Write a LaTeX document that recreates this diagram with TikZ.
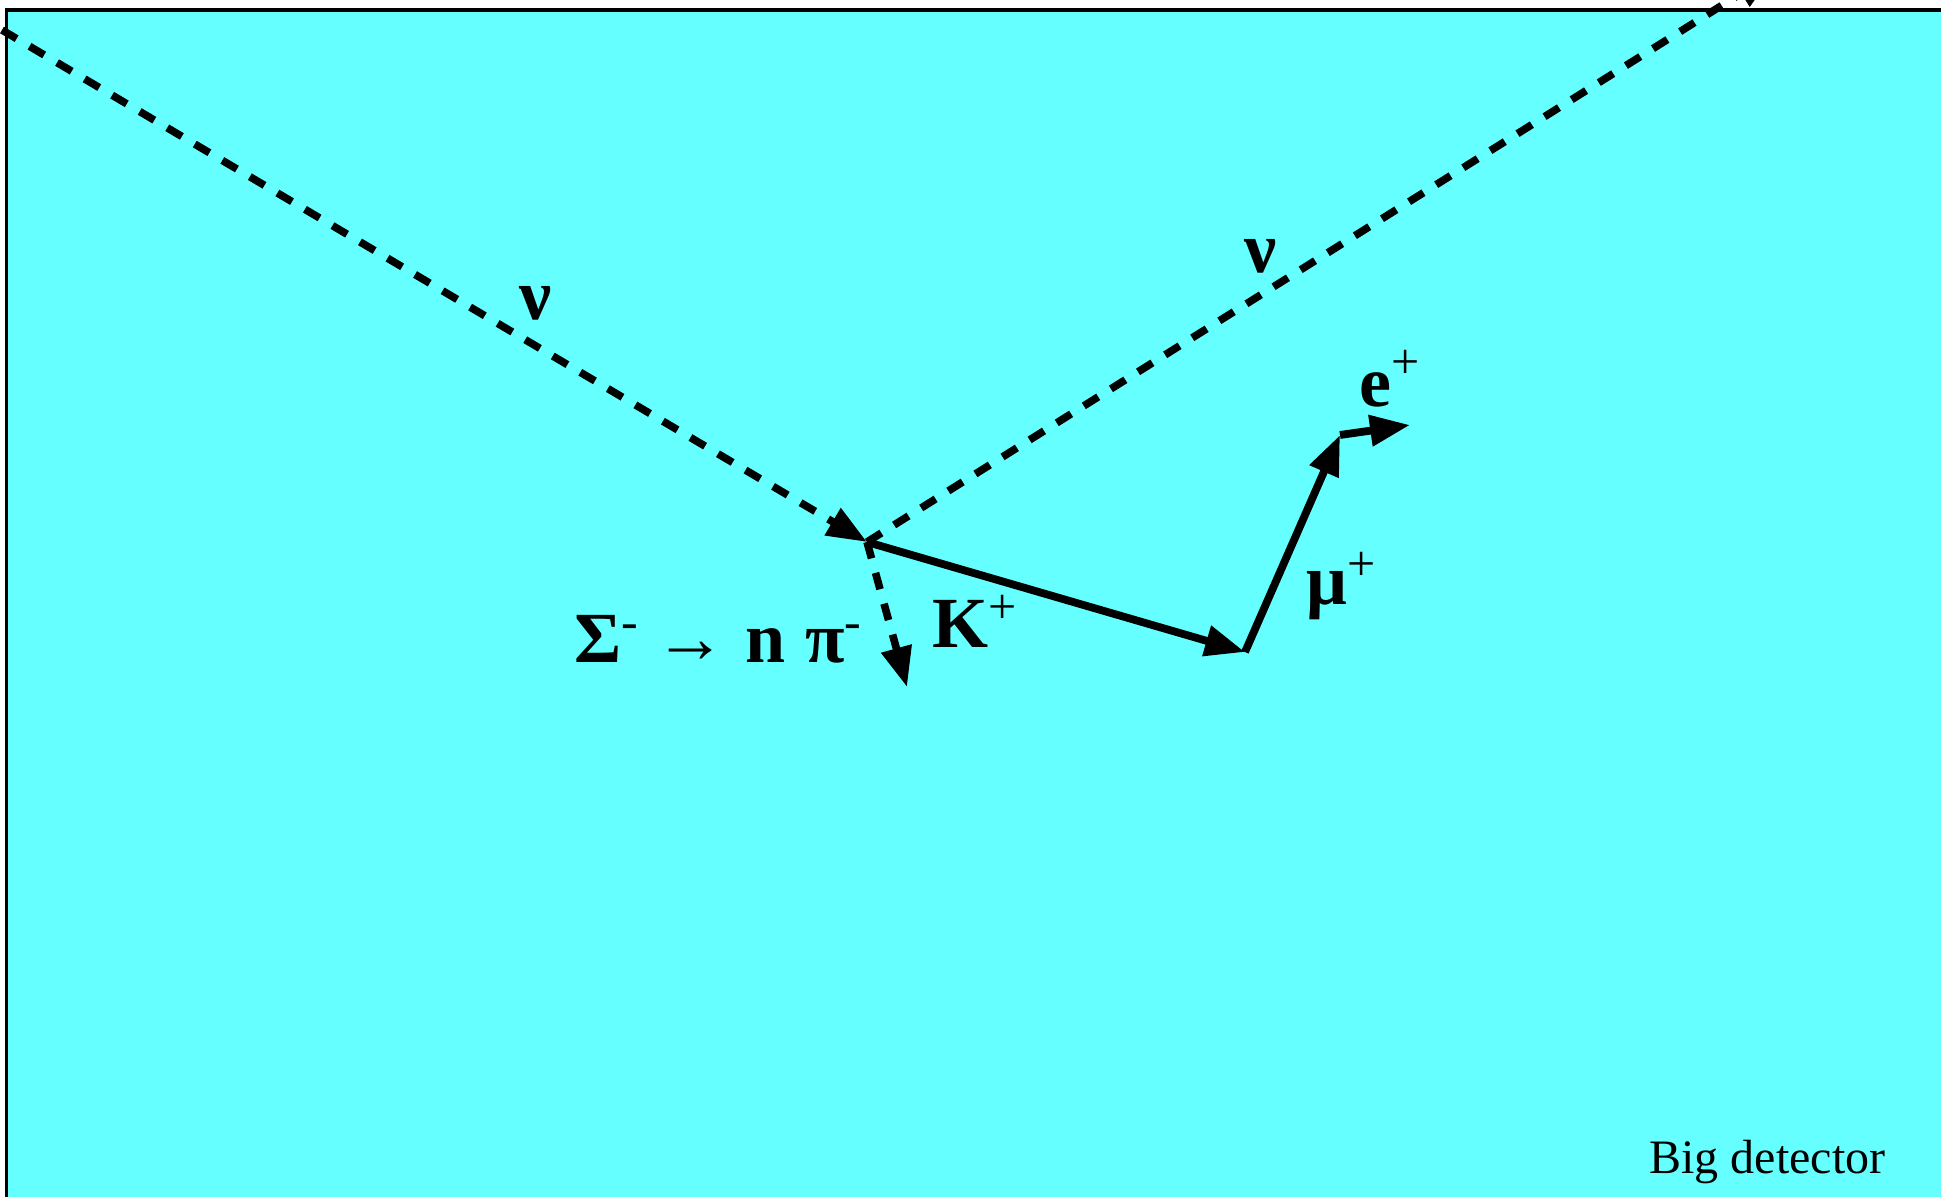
\documentclass[tikz,border=0pt]{standalone}
\usepackage{fontspec}
\setmainfont{Liberation Serif}
\usetikzlibrary{arrows.meta}
\definecolor{detcyan}{HTML}{66FFFF}
\newcommand\upidx[2]{\raisebox{#1}{\fontsize{25}{25}\selectfont\mdseries #2}}
\tikzset{
  track/.style={line width=3.9pt, -{Triangle[length=20pt,width=15pt]}},
  neutral/.style={track, line width=3.8pt, dash pattern=on 8.5pt off 7.5pt},
  lbl/.style={font=\bfseries\fontsize{36}{40}\selectfont, inner sep=0pt},
}
\begin{document}
\begin{tikzpicture}[x=0.5pt,y=-0.5pt]
\useasboundingbox (0,0) rectangle (1941,1197);
\clip (0,0) rectangle (1941,1197);
% detector
\fill[detcyan] (6.5,10) rectangle (1980,1230);
\draw[line width=1.7pt] (1980,10) -- (6.5,10) -- (6.5,1230);
% points
\coordinate (nuin) at (2,30);
\coordinate (v) at (867,542);
\coordinate (nuout) at (1775,-28);
\coordinate (piend) at (907,687);
\coordinate (kend) at (1245,652);
\coordinate (muend) at (1340,435);
\coordinate (eend) at (1410,425);
% tracks
\draw[neutral] (nuin) -- (v);
\draw[neutral] (v) -- (nuout);
\draw[neutral] (v) -- (piend);
\draw[track] (v) -- (kend);
\draw[track] (kend) -- (muend);
\draw[track] (muend) -- (eend);
% labels
\node[lbl, anchor=base] (nu1) at (536,320) {ν};
\node[lbl, anchor=base] (nu2) at (1261,273) {ν};
\node[lbl, anchor=base west] (elab) at (1359,407) {e\upidx{14pt}{+}};
\node[lbl, anchor=base west] (mulab) at (1306,604) {μ\upidx{12pt}{+}};
\node[lbl, anchor=base west] (klab) at (932,647) {K\upidx{12pt}{+}};
\node[lbl, anchor=base west] (decay) at (574,662)
  {Σ\upidx{12pt}{-}\hspace{8pt}{\mdseries →}\hspace{9.5pt}n\hspace{10pt}π\upidx{12pt}{-}};
\node[font=\fontsize{24}{28}\selectfont, inner sep=0pt, anchor=base west] (det) at (1649,1173) {Big detector};
\end{tikzpicture}
\end{document}
